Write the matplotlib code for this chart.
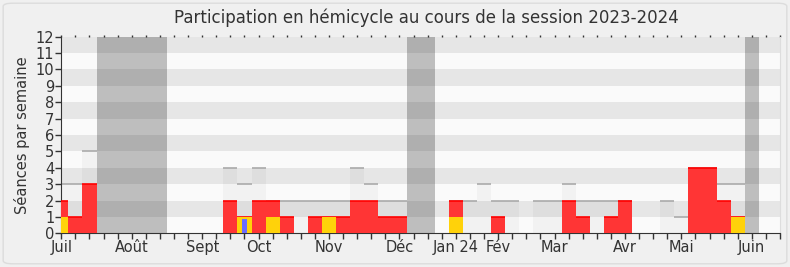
import matplotlib.pyplot as plt
from matplotlib.patches import FancyBboxPatch
import numpy as np

# one value per week, week 0 = first week of July 2023
seances = [3, 3, 5, 0, 0, 0, 0, 0, 0, 0, 0, 0, 4, 3, 4, 2, 2, 2, 2, 2, 2, 4, 3, 2, 2, 0,
           0, 0, 2, 2, 3, 2, 2, 0, 2, 2, 3, 2, 2, 2, 2, 0, 0, 2, 1, 4, 4, 3, 3, 0, 0, 0]
presences = [2, 1, 3, 0, 0, 0, 0, 0, 0, 0, 0, 0, 2, 1, 2, 2, 1, 0, 1, 1, 1, 2, 2, 1, 1, 0,
             0, 0, 2, 0, 0, 1, 0, 0, 0, 0, 2, 1, 0, 1, 2, 0, 0, 0, 0, 4, 4, 2, 1, 0, 0, 0]
interventions = [1, 0, 0, 0, 0, 0, 0, 0, 0, 0, 0, 0, 0, 1, 0, 1, 0, 0, 0, 1, 0, 0, 0, 0, 0, 0,
                 0, 0, 1, 0, 0, 0, 0, 0, 0, 0, 0, 0, 0, 0, 0, 0, 0, 0, 0, 0, 0, 0, 1, 0, 0, 0]
questions = [0, 0, 0, 0, 0, 0, 0, 0, 0, 0, 0, 0, 0, 0.9, 0, 0, 0, 0, 0, 0, 0, 0, 0, 0, 0, 0,
             0, 0, 0, 0, 0, 0, 0, 0, 0, 0, 0, 0, 0, 0, 0, 0, 0, 0, 0, 0, 0, 0, 0, 0, 0, 0]
vacances = [3, 4, 5, 6, 7, 25, 26, 49]
mois_pos = [0, 5, 10, 14, 19, 24, 28, 31, 35, 40, 44, 49]
mois = ['Juil', 'Août', 'Sept', 'Oct', 'Nov', 'Déc', 'Jan 24', 'Fév', 'Mar', 'Avr', 'Mai', 'Juin']

weeks = np.arange(len(seances))
seances = np.array(seances)
presences = np.array(presences)

fig = plt.figure(figsize=(7.9, 2.67), dpi=100, facecolor='#f0f0f0')
frame = FancyBboxPatch((0.004, 0.012), 0.992, 0.976, boxstyle='round,pad=0,rounding_size=0.012',
                       transform=fig.transFigure, facecolor='#f0f0f0', edgecolor='#dcdcdc', lw=1, zorder=-5)
fig.patches.append(frame)
ax = fig.add_axes([0.0776, 0.1262, 0.9097, 0.737])
ax.set_facecolor('#fafafa')

for y in range(1, 12, 2):
    ax.axhspan(y, y + 1, color='#e6e6e6', lw=0, zorder=0)

# total sessions of the week
m = seances > 0
ax.bar(weeks[m], seances[m], width=1, color='black', alpha=0.03, lw=0, zorder=1)
ax.hlines(seances[m], weeks[m] - 0.5, weeks[m] + 0.5, color='#aaaaaa', lw=1.2, zorder=2)

ax.bar(vacances, [12] * len(vacances), width=1, color='black', alpha=0.24, lw=0, zorder=2)

m = presences > 0
ax.bar(weeks[m], presences[m], width=1, color='#ff3535', lw=0, zorder=3)
ax.hlines(presences[m], weeks[m] - 0.5, weeks[m] + 0.5, color='#ff0000', lw=1.2, zorder=3)
ax.bar(weeks, interventions, width=1, color='#ffd20a', lw=0, zorder=4)
ax.bar(weeks, questions, width=0.3, color='#6b6bff', lw=0, zorder=5)

ax.set_xlim(0, 51)
ax.set_ylim(0, 12)
ax.set_yticks(range(13))
ax.set_xticks(weeks)
ax.set_xticklabels([mois[mois_pos.index(w)] if w in mois_pos else '' for w in weeks])
ax.tick_params(axis='both', colors='#333333', labelsize=10.5, length=4, width=1, pad=1)
ax.tick_params(axis='x', top=True, which='major')
for t in ax.xaxis.get_major_ticks():
    t.tick2line.set_markersize(1.5)
    t.tick2line.set_markeredgewidth(1)

ax.spines['top'].set_visible(False)
ax.spines['right'].set_color('#dddddd')
ax.spines['left'].set_color('#333333')
ax.spines['bottom'].set_color('#333333')

ax.set_ylabel('Séances par semaine', fontsize=10.5, color='#333333', labelpad=4)
fig.text(0.54, 0.933, 'Participation en hémicycle au cours de la session 2023-2024',
         ha='center', va='center', fontsize=12, color='#333333')

fig.savefig('out.png', dpi=100, facecolor=fig.get_facecolor())
